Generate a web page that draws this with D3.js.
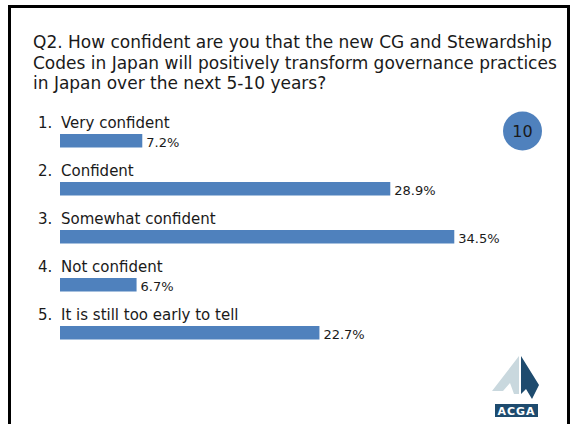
<!DOCTYPE html>
<html>
<head>
<meta charset="utf-8">
<script src="https://cdn.jsdelivr.net/npm/d3@7"></script>
<style>
  html, body { margin: 0; padding: 0; background: #fff; }
  svg { display: block; }
  text { font-family: "DejaVu Sans", sans-serif; fill: #1a1a1a; }
</style>
</head>
<body>
<svg id="chart" width="576" height="424"></svg>
<script>
// Survey question and answers
const titleLines = [
  "Q2. How confident are you that the new CG and Stewardship",
  "Codes in Japan will positively transform governance practices",
  "in Japan over the next 5-10 years?"
];
const categories = [
  "Very confident",
  "Confident",
  "Somewhat confident",
  "Not confident",
  "It is still too early to tell"
];
const shares = [7.2, 28.9, 34.5, 6.7, 22.7];
const slideNumber = "10";

const svg = d3.select("#chart");
const blue = "#4f81bd";

// slide frame (bottom edge runs off the page)
svg.append("path")
  .attr("d", "M9.5,430 V6.5 H568.5 V430")
  .attr("fill", "none")
  .attr("stroke", "#000")
  .attr("stroke-width", 3);

// title
svg.append("g").selectAll("text")
  .data(titleLines)
  .join("text")
  .attr("x", 33)
  .attr("y", (d, i) => 48 + i * 20.5)
  .attr("font-size", 17)
  .text(d => d);

// scales
const x = d3.scaleLinear().domain([0, 35]).range([60, 460]);
const y = d3.scaleBand().domain(categories).range([134, 134 + 48 * categories.length]).padding(0);
const barH = 13.5;

const rows = svg.append("g").selectAll("g")
  .data(categories.map((c, i) => ({ c, v: shares[i], i })))
  .join("g");

rows.append("text")
  .attr("x", 38)
  .attr("y", d => y(d.c) - 6)
  .attr("font-size", 15)
  .text(d => (d.i + 1) + ".");

rows.append("text")
  .attr("x", 61)
  .attr("y", d => y(d.c) - 6)
  .attr("font-size", 15)
  .text(d => d.c);

rows.append("rect")
  .attr("x", x(0))
  .attr("y", d => y(d.c))
  .attr("width", d => x(d.v) - x(0))
  .attr("height", barH)
  .attr("fill", blue);

rows.append("text")
  .attr("x", d => x(d.v) + 4)
  .attr("y", d => y(d.c) + 13)
  .attr("font-size", 13)
  .text(d => d.v.toFixed(1) + "%");

// slide number badge
svg.append("circle").attr("cx", 522.5).attr("cy", 131).attr("r", 19.5).attr("fill", blue);
svg.append("text")
  .attr("x", 522.5).attr("y", 131)
  .attr("text-anchor", "middle").attr("dominant-baseline", "central")
  .attr("font-size", 16)
  .text(slideNumber);

// ACGA logo
const logo = svg.append("g");
logo.append("path")
  .attr("d", "M519,356 L492,391 L503,391 L510,383 L514,394 L519,394 Z")
  .attr("fill", "#c9d8de");
logo.append("path")
  .attr("d", "M521,356 L539,385 L532,399 L526,389 L521,394 Z")
  .attr("fill", "#1e4b6e");
logo.append("rect").attr("x", 495).attr("y", 404).attr("width", 43).attr("height", 13).attr("fill", "#1e4b6e");
logo.append("text")
  .attr("x", 516.5).attr("y", 415)
  .attr("text-anchor", "middle")
  .attr("font-size", 11).attr("font-weight", "bold")
  .attr("letter-spacing", 1)
  .style("fill", "#fff")
  .text("ACGA");
</script>
</body>
</html>
